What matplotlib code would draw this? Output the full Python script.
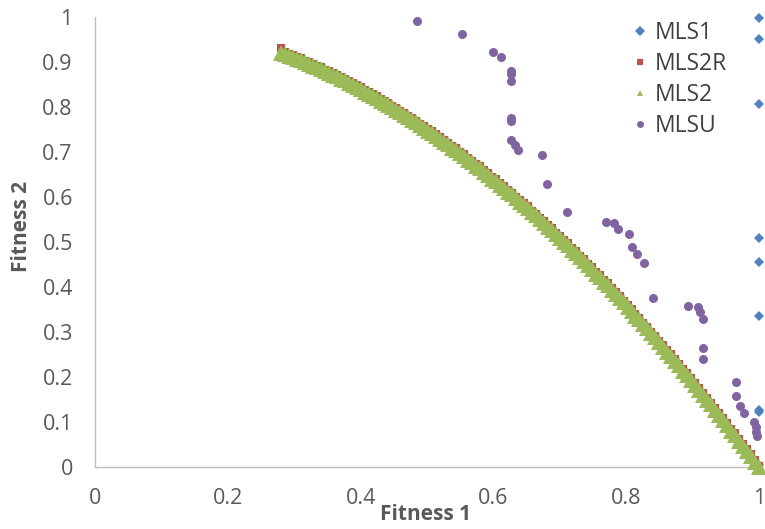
import matplotlib
matplotlib.use("Agg")
import matplotlib.pyplot as plt
from matplotlib.lines import Line2D

# MLS1 - all solutions at fitness 1 = 1
mls1_f1 = [1.0, 1.0, 1.0, 1.0, 1.0, 1.0, 1.0, 1.0, 1.0]
mls1_f2 = [0.998, 0.952, 0.807, 0.510, 0.456, 0.336, 0.127, 0.122, 0.004]

# MLS2R (red squares)
mls2r_f1 = [0.280, 0.286, 0.292, 0.298, 0.304, 0.310, 0.316, 0.322, 0.328, 0.334,
            0.340, 0.346, 0.352, 0.358, 0.364, 0.370, 0.376, 0.382, 0.388, 0.394,
            0.400, 0.406, 0.412, 0.418, 0.424, 0.430, 0.436, 0.442, 0.448, 0.454,
            0.460, 0.466, 0.472, 0.478, 0.484, 0.490, 0.496, 0.502, 0.508, 0.514,
            0.520, 0.526, 0.532, 0.538, 0.544, 0.550, 0.556, 0.562, 0.568, 0.574,
            0.580, 0.586, 0.592, 0.598, 0.604, 0.610, 0.616, 0.622, 0.628, 0.634,
            0.640, 0.646, 0.652, 0.658, 0.664, 0.670, 0.676, 0.682, 0.688, 0.694,
            0.700, 0.706, 0.712, 0.718, 0.724, 0.730, 0.736, 0.742, 0.748, 0.754,
            0.760, 0.766, 0.772, 0.778, 0.784, 0.790, 0.796, 0.802, 0.808, 0.814,
            0.820, 0.826, 0.832, 0.838, 0.844, 0.850, 0.856, 0.862, 0.868, 0.874,
            0.880, 0.886, 0.892, 0.898, 0.904, 0.910, 0.916, 0.922, 0.928, 0.934,
            0.940, 0.946, 0.952, 0.958, 0.964, 0.970, 0.976, 0.982, 0.988, 0.994,
            1.000]
mls2r_f2 = [0.932, 0.922, 0.918, 0.915, 0.911, 0.908, 0.903, 0.900, 0.895, 0.892,
            0.888, 0.883, 0.880, 0.875, 0.872, 0.866, 0.863, 0.857, 0.853, 0.848,
            0.844, 0.838, 0.834, 0.828, 0.824, 0.818, 0.814, 0.808, 0.803, 0.797,
            0.792, 0.786, 0.781, 0.775, 0.770, 0.763, 0.758, 0.751, 0.746, 0.739,
            0.734, 0.726, 0.721, 0.714, 0.708, 0.701, 0.695, 0.687, 0.681, 0.674,
            0.668, 0.660, 0.654, 0.645, 0.639, 0.631, 0.625, 0.616, 0.610, 0.601,
            0.594, 0.586, 0.579, 0.570, 0.563, 0.554, 0.547, 0.538, 0.531, 0.521,
            0.514, 0.505, 0.497, 0.487, 0.480, 0.470, 0.462, 0.452, 0.444, 0.434,
            0.426, 0.416, 0.408, 0.398, 0.389, 0.379, 0.370, 0.360, 0.351, 0.340,
            0.332, 0.321, 0.312, 0.301, 0.292, 0.281, 0.271, 0.260, 0.251, 0.239,
            0.230, 0.218, 0.208, 0.197, 0.187, 0.175, 0.165, 0.153, 0.143, 0.131,
            0.120, 0.108, 0.098, 0.085, 0.075, 0.062, 0.051, 0.039, 0.028, 0.015,
            0.003]

# MLS2 (green triangles)
mls2_f1 = [0.280, 0.286, 0.292, 0.298, 0.304, 0.310, 0.316, 0.322, 0.328, 0.334,
           0.340, 0.346, 0.352, 0.358, 0.364, 0.370, 0.376, 0.382, 0.388, 0.394,
           0.400, 0.406, 0.412, 0.418, 0.424, 0.430, 0.436, 0.442, 0.448, 0.454,
           0.460, 0.466, 0.472, 0.478, 0.484, 0.490, 0.496, 0.502, 0.508, 0.514,
           0.520, 0.526, 0.532, 0.538, 0.544, 0.550, 0.556, 0.562, 0.568, 0.574,
           0.580, 0.586, 0.592, 0.598, 0.604, 0.610, 0.616, 0.622, 0.628, 0.634,
           0.640, 0.646, 0.652, 0.658, 0.664, 0.670, 0.676, 0.682, 0.688, 0.694,
           0.700, 0.706, 0.712, 0.718, 0.724, 0.730, 0.736, 0.742, 0.748, 0.754,
           0.760, 0.766, 0.772, 0.778, 0.784, 0.790, 0.796, 0.802, 0.808, 0.814,
           0.820, 0.826, 0.832, 0.838, 0.844, 0.850, 0.856, 0.862, 0.868, 0.874,
           0.880, 0.886, 0.892, 0.898, 0.904, 0.910, 0.916, 0.922, 0.928, 0.934,
           0.940, 0.946, 0.952, 0.958, 0.964, 0.970, 0.976, 0.982, 0.988, 0.994,
           1.000]
mls2_f2 = [0.920, 0.918, 0.914, 0.911, 0.907, 0.904, 0.899, 0.896, 0.891, 0.888,
           0.884, 0.879, 0.876, 0.871, 0.868, 0.862, 0.859, 0.853, 0.849, 0.844,
           0.840, 0.834, 0.830, 0.824, 0.820, 0.814, 0.810, 0.804, 0.799, 0.793,
           0.788, 0.782, 0.777, 0.771, 0.766, 0.759, 0.754, 0.747, 0.742, 0.735,
           0.730, 0.722, 0.717, 0.710, 0.704, 0.697, 0.691, 0.683, 0.677, 0.670,
           0.664, 0.656, 0.650, 0.641, 0.635, 0.627, 0.621, 0.612, 0.606, 0.597,
           0.590, 0.582, 0.575, 0.566, 0.559, 0.550, 0.543, 0.534, 0.527, 0.517,
           0.510, 0.501, 0.493, 0.483, 0.476, 0.466, 0.458, 0.448, 0.440, 0.430,
           0.422, 0.412, 0.404, 0.394, 0.385, 0.375, 0.366, 0.356, 0.347, 0.336,
           0.328, 0.317, 0.308, 0.297, 0.288, 0.277, 0.267, 0.256, 0.247, 0.235,
           0.226, 0.214, 0.204, 0.193, 0.183, 0.171, 0.161, 0.149, 0.139, 0.127,
           0.116, 0.104, 0.094, 0.081, 0.071, 0.058, 0.047, 0.035, 0.024, 0.011,
           0.000]

# MLSU (purple circles)
mlsu_f1 = [0.485, 0.552, 0.599, 0.611, 0.627, 0.627, 0.627, 0.627, 0.627, 0.627,
           0.632, 0.637, 0.673, 0.681, 0.711, 0.770, 0.781, 0.788, 0.804, 0.809,
           0.816, 0.827, 0.840, 0.893, 0.908, 0.911, 0.915, 0.916, 0.916, 0.965,
           0.966, 0.972, 0.978, 0.992, 0.995, 0.996, 0.997]
mlsu_f2 = [0.991, 0.962, 0.923, 0.912, 0.881, 0.873, 0.858, 0.775, 0.768, 0.727,
           0.716, 0.704, 0.693, 0.630, 0.566, 0.545, 0.543, 0.528, 0.518, 0.490,
           0.473, 0.453, 0.375, 0.358, 0.356, 0.345, 0.330, 0.265, 0.239, 0.188,
           0.158, 0.136, 0.120, 0.101, 0.090, 0.078, 0.069]

nomes = ['MLS1', 'MLS2R', 'MLS2', 'MLSU']
cores = ['#4F81BD', '#C0504D', '#9BBB59', '#8064A2']
marcadores = ['D', 's', '^', 'o']

x_ticks = [0, 0.2, 0.4, 0.6, 0.8, 1]
x_tick_labels = ['0', '0.2', '0.4', '0.6', '0.8', '1']
y_ticks = [0, 0.1, 0.2, 0.3, 0.4, 0.5, 0.6, 0.7, 0.8, 0.9, 1]
y_tick_labels = ['0', '0.1', '0.2', '0.3', '0.4', '0.5', '0.6', '0.7', '0.8', '0.9', '1']


def plotar_grafico():
    plt.rcParams['font.family'] = ['Open Sans', 'DejaVu Sans']
    fig = plt.figure(figsize=(7.65, 5.29), dpi=100)
    ax = fig.add_axes([95 / 765, 1 - 467 / 529, 664 / 765, 450 / 529])

    series = [(mls1_f1, mls1_f2, 5.5), (mls2r_f1, mls2r_f2, 6),
              (mls2_f1, mls2_f2, 11), (mlsu_f1, mlsu_f2, 6.5)]
    for i, (xs, ys, ms) in enumerate(series):
        ax.plot(xs, ys, linestyle='none', marker=marcadores[i], markersize=ms,
                color=cores[i], markeredgewidth=0, clip_on=False, zorder=3 + i)

    ax.set_xlim(0, 1)
    ax.set_ylim(0, 1)
    ax.set_xticks(x_ticks)
    ax.set_xticklabels(x_tick_labels)
    ax.set_yticks(y_ticks)
    ax.set_yticklabels(y_tick_labels)
    ax.tick_params(length=0, labelsize=15.5, labelcolor='#595959')
    ax.tick_params(axis='x', pad=15)
    ax.tick_params(axis='y', pad=16)

    for lado in ['top', 'right']:
        ax.spines[lado].set_visible(False)
    for lado in ['left', 'bottom']:
        ax.spines[lado].set_color('#BFBFBF')
        ax.spines[lado].set_linewidth(1)

    fig.text(426 / 765, 1 - 514 / 529, 'Fitness 1', ha='center', va='center',
             fontsize=15, fontweight='bold', color='#595959')
    fig.text(22 / 765, 1 - 226 / 529, 'Fitness 2', ha='center', va='center',
             rotation=90, fontsize=15, fontweight='bold', color='#595959')

    handles = [Line2D([], [], linestyle='none', marker=marcadores[i], markersize=5,
                      color=cores[i], markeredgewidth=0) for i in range(4)]
    leg = ax.legend(handles, nomes, loc='upper left', bbox_to_anchor=(633 / 765, 1 - 21 / 529),
                    bbox_transform=fig.transFigure, frameon=False, fontsize=16.5,
                    handlelength=0.6, handletextpad=0.35, labelspacing=0.3,
                    borderpad=0, borderaxespad=0)
    for t in leg.get_texts():
        t.set_color('#404040')

    fig.savefig("out.png", dpi=100)


if __name__ == "__main__":
    plotar_grafico()
